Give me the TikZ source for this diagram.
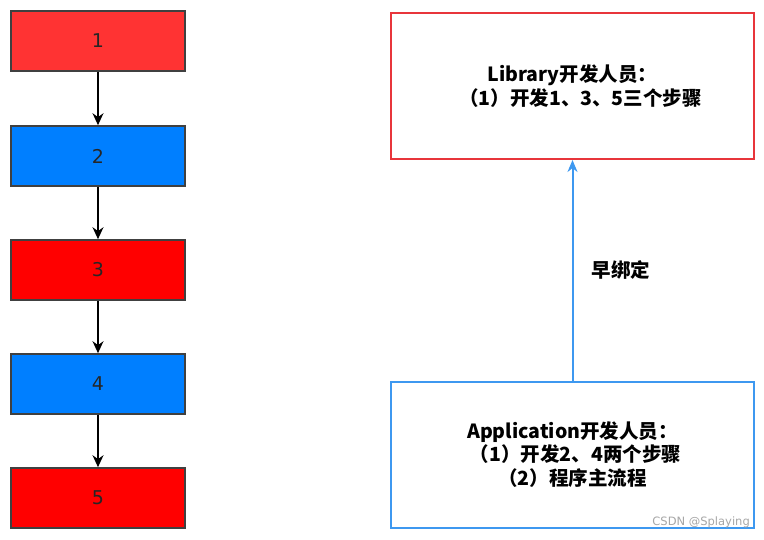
\documentclass[tikz,border=0pt]{standalone}
\usepackage{fontspec}
\newfontfamily\cjk{Noto Sans CJK SC}
\newfontfamily\dv{DejaVu Sans}
\usetikzlibrary{arrows.meta}
\definecolor{lred}{HTML}{FF3333}
\definecolor{pred}{HTML}{FF0000}
\definecolor{pblue}{HTML}{007FFF}
\definecolor{bred}{HTML}{E8353B}
\definecolor{bblue}{HTML}{3D98F0}
\tikzset{
  stepbox/.style={draw=black!75, line width=1.6pt, minimum width=174pt, minimum height=60pt, inner sep=0pt, font=\dv\fontsize{19}{20}\selectfont, text=black!85},
  bigbox/.style={line width=2pt, minimum width=363pt, minimum height=146pt, inner sep=0pt, align=center, font=\cjk\bfseries\fontsize{19.5}{23.5}\selectfont},
  flow/.style={black, line width=1.6pt, -{Stealth[length=12pt,width=11pt]}},
}
\begin{document}
\begin{tikzpicture}[x=1pt,y=-1pt]
\useasboundingbox (0,0) rectangle (764,539);
\node[stepbox, fill=lred] (s1) at (98,41) {1};
\node[stepbox, fill=pblue] (s2) at (98,156) {2};
\node[stepbox, fill=pred] (s3) at (98,270) {3};
\node[stepbox, fill=pblue] (s4) at (98,384) {4};
\node[stepbox, fill=pred] (s5) at (98,498) {5};
\draw[flow] (s1) -- (s2);
\draw[flow] (s2) -- (s3);
\draw[flow] (s3) -- (s4);
\draw[flow] (s4) -- (s5);
\node[bigbox, draw=bred] (lib) at (572.5,86) {Library开发人员：\\\hspace*{16pt}（1）开发1、3、5三个步骤};
\node[bigbox, draw=bblue] (app) at (572.5,454.5) {Application开发人员：\\\hspace*{6pt}（1）开发2、4两个步骤\\（2）程序主流程};
\draw[bblue, line width=2pt, -{Stealth[length=12pt,width=10pt]}] (app.north) -- (lib.south) node[midway, right=15pt, font=\cjk\bfseries\fontsize{19.5}{20}\selectfont, text=black] (lab) {早绑定};
\node[anchor=south east, text=black!35, font=\dv\fontsize{11.5}{12}\selectfont, inner sep=0pt] (wm) at (750,528) {CSDN @Splaying};
\end{tikzpicture}
\end{document}
